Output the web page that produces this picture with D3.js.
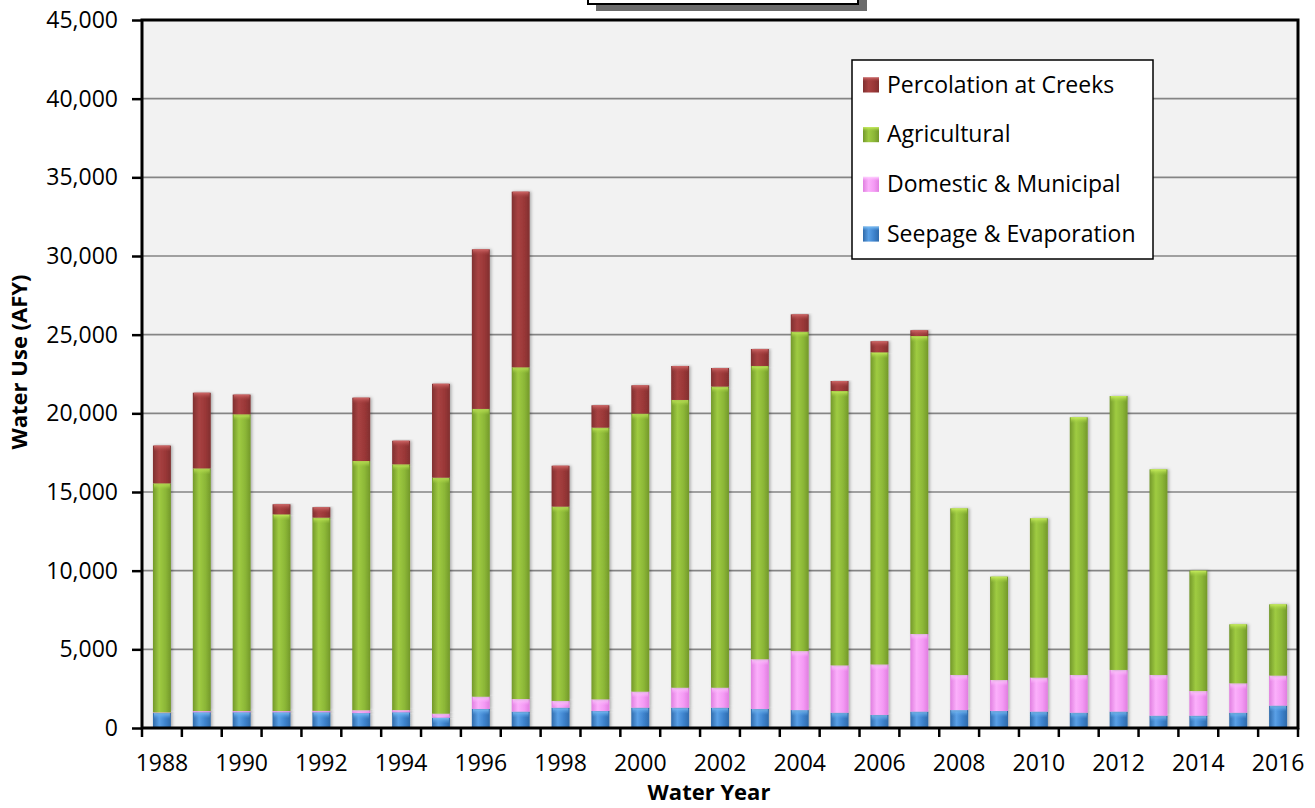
<!DOCTYPE html>
<html><head><meta charset="utf-8">
<script src="https://cdn.jsdelivr.net/npm/d3@7"></script>
<style>
body{margin:0;background:#fff;}
svg{display:block;font-family:"Open Sans",Lato,sans-serif;}
</style></head>
<body><svg id="c" width="1315" height="808"></svg>
<script>
const years = d3.range(1988, 2017).map(String);
const seepage = [950,1000,1000,1000,1000,950,1000,660,1210,1040,1290,1080,1290,1290,1290,1210,1140,970,830,1040,1140,1080,1040,970,1040,780,780,970,1420];
const domestic = [40,80,80,80,90,180,140,250,780,800,430,740,1020,1270,1270,3160,3750,3010,3210,4935,2230,1970,2160,2400,2650,2590,1570,1870,1910];
const agricultural = [14560,15420,18860,12500,12280,15840,15620,15000,18290,21085,12350,17270,17670,18290,19140,18640,20300,17440,19840,18940,10590,6570,10130,16380,17410,13070,7650,3750,4530];
const percolation = [2400,4810,1250,640,660,4025,1500,5970,10145,11165,2600,1420,1800,2160,1180,1080,1100,635,700,365,0,0,0,0,0,0,0,0,0];
const seriesNames = ["Seepage & Evaporation","Domestic & Municipal","Agricultural","Percolation at Creeks"];
const yTicks = [0,5000,10000,15000,20000,25000,30000,35000,40000,45000];
const xLabelYears = years.filter((d,i)=>i%2===0);

const svg = d3.select("#c");
const M = {l:142, r:1298, t:20, b:728};

const x = d3.scaleBand().domain(years).range([M.l, M.r]).paddingInner(0.55).paddingOuter(0.275);
const xb = d3.scaleBand().domain(years).range([M.l, M.r]);
const y = d3.scaleLinear().domain([0,45000]).range([M.b, M.t]);

const rows = years.map((yr,i)=>({year:yr, s0:seepage[i], s1:domestic[i], s2:agricultural[i], s3:percolation[i]}));
const keys = ["s0","s1","s2","s3"];
const stack = d3.stack().keys(keys)(rows);

const pal = {
  s0:{dark:"#2f6aaa", mid:"#3d82cc", light:"#5aa0e6", cap:"#7cc0f5"},
  s1:{dark:"#e07ee0", mid:"#f49af4", light:"#fbb0fb", cap:"#ffd0ff"},
  s2:{dark:"#73982a", mid:"#8cb737", light:"#9fcb42", cap:"#c8ee5c"},
  s3:{dark:"#803030", mid:"#9a3737", light:"#a84242", cap:"#d06868"}
};

const defs = svg.append("defs");
keys.forEach(k=>{
  const g = defs.append("linearGradient").attr("id","g"+k).attr("x1","0").attr("x2","1").attr("y1","0").attr("y2","0");
  g.append("stop").attr("offset","0%").attr("stop-color",pal[k].dark);
  g.append("stop").attr("offset","35%").attr("stop-color",pal[k].light);
  g.append("stop").attr("offset","70%").attr("stop-color",pal[k].mid);
  g.append("stop").attr("offset","100%").attr("stop-color",pal[k].dark);
  const c = defs.append("linearGradient").attr("id","c"+k).attr("x1","0").attr("x2","0").attr("y1","0").attr("y2","1");
  c.append("stop").attr("offset","0%").attr("stop-color",pal[k].cap);
  c.append("stop").attr("offset","100%").attr("stop-color",pal[k].light).attr("stop-opacity",0);
});
const f = defs.append("filter").attr("id","sh").attr("x","-30%").attr("y","-5%").attr("width","160%").attr("height","110%");
f.append("feDropShadow").attr("dx",1.5).attr("dy",0).attr("stdDeviation",1.5).attr("flood-color","#000").attr("flood-opacity",0.3);

// title box (partially clipped)
svg.append("rect").attr("x",596).attr("y",-30).attr("width",271).attr("height",41).attr("fill","#6b6b6b");
svg.append("rect").attr("x",588).attr("y",-40).attr("width",270).attr("height",44).attr("fill","#fff").attr("stroke","#000").attr("stroke-width",2);

// plot background
svg.append("rect").attr("x",M.l).attr("y",M.t).attr("width",M.r-M.l).attr("height",M.b-M.t).attr("fill","#f2f2f2");

// gridlines
svg.append("g").selectAll("line").data(yTicks.filter(d=>d>0 && d<45000)).join("line")
  .attr("x1",M.l).attr("x2",M.r).attr("y1",d=>y(d)).attr("y2",d=>y(d))
  .attr("stroke","#858585").attr("stroke-width",1.6);

// bars
const barG = svg.append("g");
stack.forEach(layer=>{
  const k = layer.key;
  const g = barG.append("g");
  layer.forEach(d=>{
    const h = y(d[0]) - y(d[1]);
    if (h <= 0.2) return;
    const bx = x(d.data.year), bw = x.bandwidth();
    g.append("rect").attr("x",bx).attr("y",y(d[1])).attr("width",bw).attr("height",h)
      .attr("fill","url(#g"+k+")").attr("filter","url(#sh)");
    g.append("rect").attr("x",bx+1).attr("y",y(d[1])).attr("width",bw-2).attr("height",Math.min(6,h))
      .attr("fill","url(#c"+k+")");
  });
});

// axes
const yAxis = d3.axisLeft(y).tickValues(yTicks).tickSize(10).tickFormat(d3.format(",")).tickPadding(14);
const ya = svg.append("g").attr("transform",`translate(${M.l},0)`).call(yAxis);
ya.select(".domain").remove();
ya.selectAll("line").attr("stroke","#000").attr("stroke-width",2.5);
ya.selectAll("text").attr("font-size",23).attr("fill","#000").attr("font-family","Open Sans");

// x axis ticks at band boundaries
const bounds = years.map(yr=>xb(yr)).concat([M.r]);
svg.append("g").selectAll("line").data(bounds).join("line")
  .attr("x1",d=>d).attr("x2",d=>d).attr("y1",M.b).attr("y2",M.b+9)
  .attr("stroke","#000").attr("stroke-width",2.5);
svg.append("g").selectAll("text").data(xLabelYears).join("text")
  .attr("x",d=>xb(d)+xb.bandwidth()/2).attr("y",771)
  .attr("text-anchor","middle").attr("font-size",23).attr("fill","#000").text(d=>d);

// plot border
svg.append("rect").attr("x",M.l).attr("y",M.t).attr("width",M.r-M.l).attr("height",M.b-M.t)
  .attr("fill","none").attr("stroke","#000").attr("stroke-width",3);

// axis titles
svg.append("text").attr("transform","translate(27,362) rotate(-90)").attr("text-anchor","middle")
  .attr("font-size",22).attr("font-weight","bold").text("Water Use (AFY)");
svg.append("text").attr("x",709).attr("y",800).attr("text-anchor","middle")
  .attr("font-size",22).attr("font-weight","bold").text("Water Year");

// legend
const leg = svg.append("g");
leg.append("rect").attr("x",852).attr("y",60).attr("width",301).attr("height",199)
  .attr("fill","#fff").attr("stroke","#000").attr("stroke-width",1.5);
const legOrder = ["s3","s2","s1","s0"];
legOrder.forEach((k,i)=>{
  const base = 92.5 + i*49.7;
  leg.append("rect").attr("x",863).attr("y",base-15).attr("width",16).attr("height",15).attr("fill","url(#g"+k+")");
  leg.append("rect").attr("x",863).attr("y",base-15).attr("width",16).attr("height",4).attr("fill","url(#c"+k+")");
  leg.append("text").attr("x",887).attr("y",base).attr("font-size",23).attr("fill","#000")
    .text(seriesNames[keys.indexOf(k)]);
});
</script></body></html>
